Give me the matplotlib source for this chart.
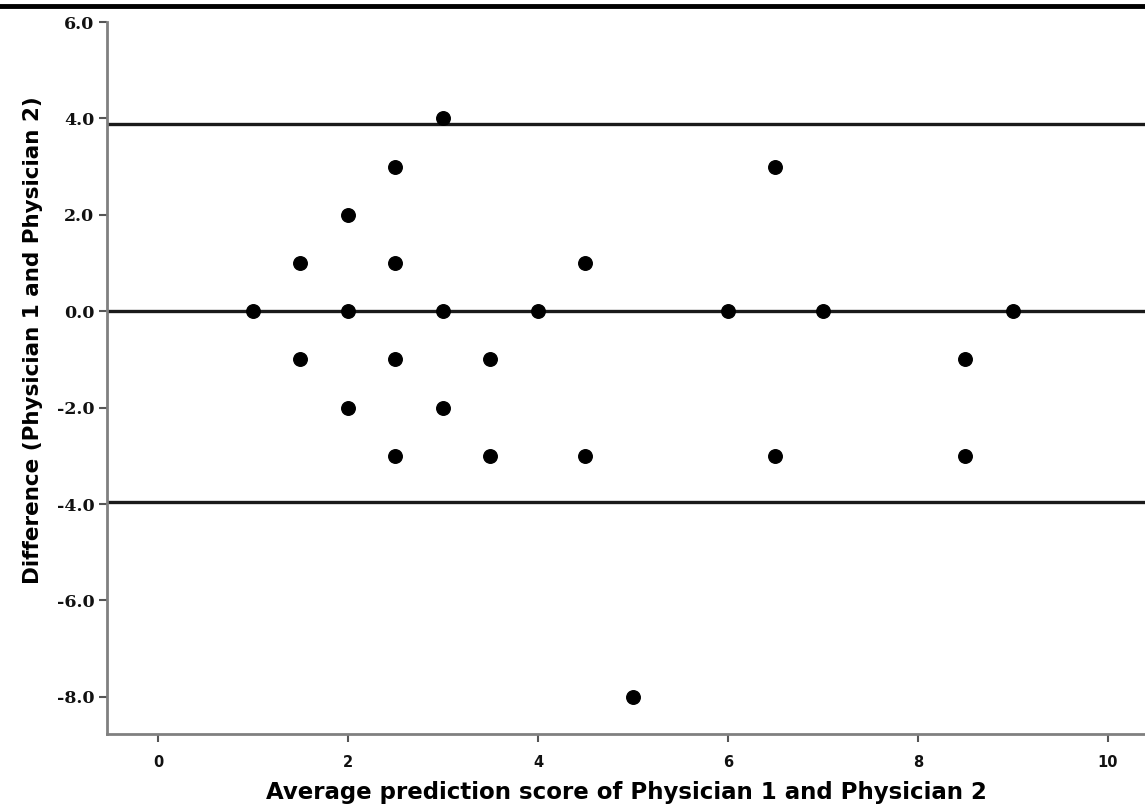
import matplotlib.pyplot as plt
from matplotlib.lines import Line2D

# average score of the two physicians and their difference
avg_score = [1, 1.5, 1.5, 2, 2, 2, 2.5, 2.5, 2.5, 2.5, 3, 3, 3,
             3.5, 3.5, 4, 4.5, 4.5, 5, 6, 6.5, 6.5, 7, 8.5, 8.5, 9]
difference = [0, 1, -1, 2, 0, -2, 3, 1, -1, -3, 4, 0, -2,
              -1, -3, 0, 1, -3, -8, 0, 3, -3, 0, -1, -3, 0]

# mean difference and limits of agreement
mean_diff = 0.0
upper_loa = 3.89
lower_loa = -3.95

x_ticks = [0, 2, 4, 6, 8, 10]
y_ticks = [6, 4, 2, 0, -2, -4, -6, -8]

fig = plt.figure(figsize=(11.45, 8.07), dpi=100)
ax = fig.add_axes([0.0934, 0.0905, 0.9066, 0.8822])

for val in (upper_loa, mean_diff, lower_loa):
    ax.axhline(val, color='#1a1a1a', linewidth=2.4, zorder=2)

ax.scatter(avg_score, difference, s=95, color='black', zorder=3)

ax.set_xlim(-0.537, 10.39)
ax.set_ylim(-8.77, 6.0)
ax.set_xticks(x_ticks)
ax.set_yticks(y_ticks)
ax.set_yticklabels(['%.1f' % v for v in y_ticks])

for side in ('top', 'right'):
    ax.spines[side].set_visible(False)
for side in ('left', 'bottom'):
    ax.spines[side].set_color('#808080')
    ax.spines[side].set_linewidth(2)

ax.tick_params(axis='both', colors='#555555', length=6, width=1.5, direction='out')
for lab in ax.get_yticklabels():
    lab.set_fontfamily('DejaVu Serif')
    lab.set_fontweight('bold')
    lab.set_fontsize(12.5)
    lab.set_color('#111111')
for lab in ax.get_xticklabels():
    lab.set_fontfamily('DejaVu Sans')
    lab.set_fontweight('bold')
    lab.set_fontsize(10.5)
    lab.set_color('#111111')
ax.tick_params(axis='x', pad=9)
ax.tick_params(axis='y', pad=3)

ax.set_xlabel('Average prediction score of Physician 1 and Physician 2',
              fontfamily='DejaVu Sans', fontweight='bold', fontsize=16.5, labelpad=8)
ax.set_ylabel('Difference (Physician 1 and Physician 2)',
              fontfamily='DejaVu Sans', fontweight='bold', fontsize=15.5)
ax.yaxis.set_label_coords(-0.062, 0.553)

# thick border line at the very top of the picture
fig.add_artist(Line2D([0, 1], [0.9925, 0.9925], color='black', linewidth=3.5,
                      transform=fig.transFigure))

fig.savefig('out.png', dpi=100)
